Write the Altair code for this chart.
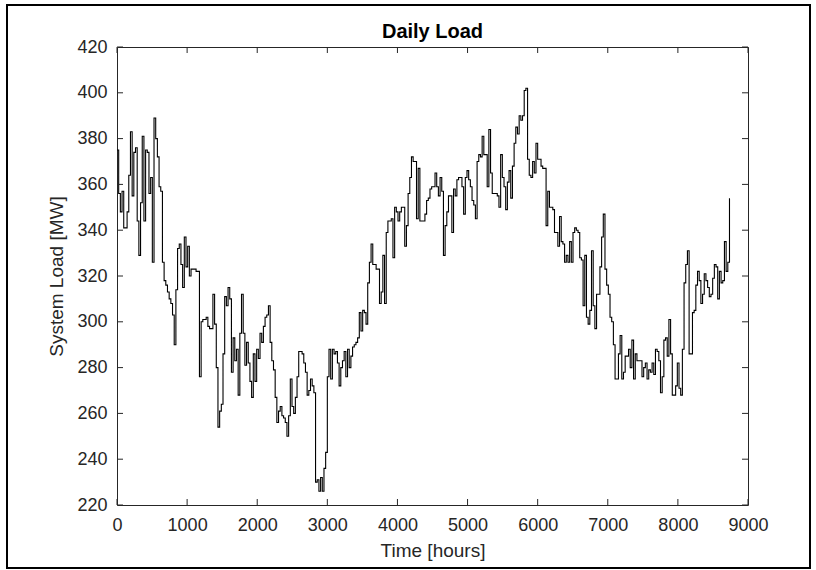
import altair as alt
import pandas as pd

# Daily system load [MW], one value per day of the year (365 days).
load_days_000_060 = [
    375, 356, 348, 357, 341, 341, 348, 364, 383, 355,
    374, 376, 344, 329, 352, 381, 344, 375, 374, 356,
    363, 326, 389, 380, 372, 359, 357, 326, 318, 316,
    313, 310, 308, 303, 290, 314, 332, 334, 325, 315,
    337, 324, 333, 320, 323, 323, 323, 322, 322, 276,
    300, 301, 301, 302, 298, 297, 297, 312, 299, 280,
    254,
]
load_days_061_126 = [
    261, 264, 286, 311, 307, 315, 310, 278, 293, 283,
    288, 268, 295, 312, 295, 281, 291, 282, 274, 267,
    286, 274, 288, 284, 295, 291, 298, 302, 303, 307,
    291, 283, 279, 267, 256, 261, 263, 259, 258, 256,
    250, 259, 275, 263, 260, 267, 276, 287, 287, 286,
    282, 278, 268, 270, 275, 272, 269, 230, 231, 226,
    232, 226, 236, 243, 276, 288,
]
load_days_127_191 = [
    275, 288, 286, 287, 282, 272, 280, 283, 287, 276,
    288, 280, 285, 289, 290, 291, 293, 304, 296, 305,
    304, 299, 317, 326, 334, 325, 325, 323, 323, 308,
    313, 329, 308, 339, 344, 344, 345, 328, 350, 348,
    344, 348, 350, 350, 333, 342, 356, 363, 372, 370,
    370, 345, 367, 344, 344, 344, 347, 353, 354, 358,
    359, 359, 365, 359, 355,
]
load_days_192_260 = [
    363, 357, 329, 342, 348, 355, 355, 339, 358, 355,
    362, 363, 363, 359, 347, 363, 366, 362, 359, 353,
    351, 345, 370, 373, 372, 381, 373, 373, 359, 384,
    365, 356, 356, 356, 355, 350, 373, 363, 359, 349,
    361, 366, 354, 368, 378, 385, 382, 390, 388, 390,
    401, 402, 371, 364, 363, 370, 365, 378, 371, 371,
    368, 367, 367, 342, 357, 350, 350, 349, 339,
]
load_days_261_322 = [
    339, 333, 346, 335, 334, 326, 329, 326, 335, 326,
    339, 341, 340, 339, 328, 327, 307, 329, 302, 299,
    305, 331, 307, 297, 312, 312, 324, 337, 347, 323,
    316, 312, 302, 300, 290, 275, 275, 286, 294, 275,
    278, 285, 285, 288, 280, 292, 275, 286, 283, 283,
    283, 276, 280, 282, 275, 279, 278, 282, 277, 288,
    287, 283,
]
load_days_323_364 = [
    269, 276, 292, 293, 285, 301, 286, 268, 268, 272,
    282, 271, 268, 288, 317, 325, 331, 286, 286, 304,
    305, 316, 322, 318, 308, 312, 321, 318, 315, 311,
    312, 319, 325, 324, 310, 322, 317, 318, 335, 322,
    326, 354,
]

x_tick_values = [0, 1000, 2000, 3000, 4000, 5000, 6000, 7000, 8000, 9000]
y_tick_values = [220, 240, 260, 280, 300, 320, 340, 360, 380, 400, 420]

daily_load = (load_days_000_060 + load_days_061_126 + load_days_127_191
              + load_days_192_260 + load_days_261_322 + load_days_323_364)
hours_per_day = 24
load_df = pd.DataFrame({
    "hour": [d * hours_per_day for d in range(len(daily_load))],
    "load": daily_load,
})

W, H = 631, 458
TICK = 6
AXIS_COLOR = "#262626"
FONT = "Liberation Sans"

x_scale = alt.Scale(domain=[0, 9000], nice=False, zero=False)
y_scale = alt.Scale(domain=[220, 420], nice=False, zero=False)

# One shared axis definition per channel, reused by every layer
x_axis = alt.Axis(
    values=x_tick_values, title="Time [hours]", format="d",
    labelPadding=11, labelFlush=False, labelOverlap=False,
    titleY=45, titleBaseline="middle",
)
y_axis = alt.Axis(
    values=y_tick_values, title="System Load [MW]", format="d",
    labelPadding=10, labelFlush=False, labelOverlap=False,
    titleX=-61, titleY=H / 2, titleBaseline="middle",
    titleAngle=-90, titleAlign="center",
)

# Stair-step load curve
curve = alt.Chart(load_df).mark_line(
    interpolate="step-after", color="black", strokeWidth=1.1
).encode(
    x=alt.X("hour:Q", scale=x_scale, axis=x_axis),
    y=alt.Y("load:Q", scale=y_scale, axis=y_axis),
)

# Inward tick marks on all four sides of the box
xt = pd.DataFrame({"hour": x_tick_values})
yt = pd.DataFrame({"load": y_tick_values})
tick_style = dict(color=AXIS_COLOR, strokeWidth=1)

bottom_ticks = alt.Chart(xt).mark_rule(**tick_style).encode(
    x=alt.X("hour:Q", scale=x_scale, axis=x_axis),
    y=alt.value(H), y2=alt.value(H - TICK))
top_ticks = alt.Chart(xt).mark_rule(**tick_style).encode(
    x=alt.X("hour:Q", scale=x_scale, axis=x_axis),
    y=alt.value(0), y2=alt.value(TICK))
left_ticks = alt.Chart(yt).mark_rule(**tick_style).encode(
    y=alt.Y("load:Q", scale=y_scale, axis=y_axis),
    x=alt.value(0), x2=alt.value(TICK))
right_ticks = alt.Chart(yt).mark_rule(**tick_style).encode(
    y=alt.Y("load:Q", scale=y_scale, axis=y_axis),
    x=alt.value(W), x2=alt.value(W - TICK))

# Chart heading
heading = alt.Chart(pd.DataFrame({"label": ["Daily Load"]})).mark_text(
    font=FONT, fontSize=20, fontWeight="bold", color="black",
    align="center", baseline="alphabetic",
).encode(
    text="label:N", x=alt.value(W / 2), y=alt.value(-9),
)

# Outer border around the whole figure
border = alt.Chart(pd.DataFrame({"k": [0]})).mark_rect(
    fillOpacity=0, stroke="black", strokeWidth=2
).encode(
    x=alt.value(-110), x2=alt.value(693),
    y=alt.value(-42), y2=alt.value(521),
)

chart = alt.layer(
    border, curve, bottom_ticks, top_ticks, left_ticks, right_ticks, heading
).properties(
    width=W, height=H,
    autosize=alt.AutoSizeParams(type="none"),
    padding={"left": 117, "top": 47, "right": 68, "bottom": 65},
).configure(
    background="white",
).configure_view(
    stroke=AXIS_COLOR, strokeWidth=1,
).configure_axis(
    domain=False, ticks=False, grid=False,
    labelFont=FONT, labelFontSize=18, labelColor=AXIS_COLOR,
    titleFont=FONT, titleFontSize=19, titleFontWeight="normal",
    titleColor=AXIS_COLOR,
)

chart.save("out.html", embed_options={"renderer": "svg", "actions": False})
